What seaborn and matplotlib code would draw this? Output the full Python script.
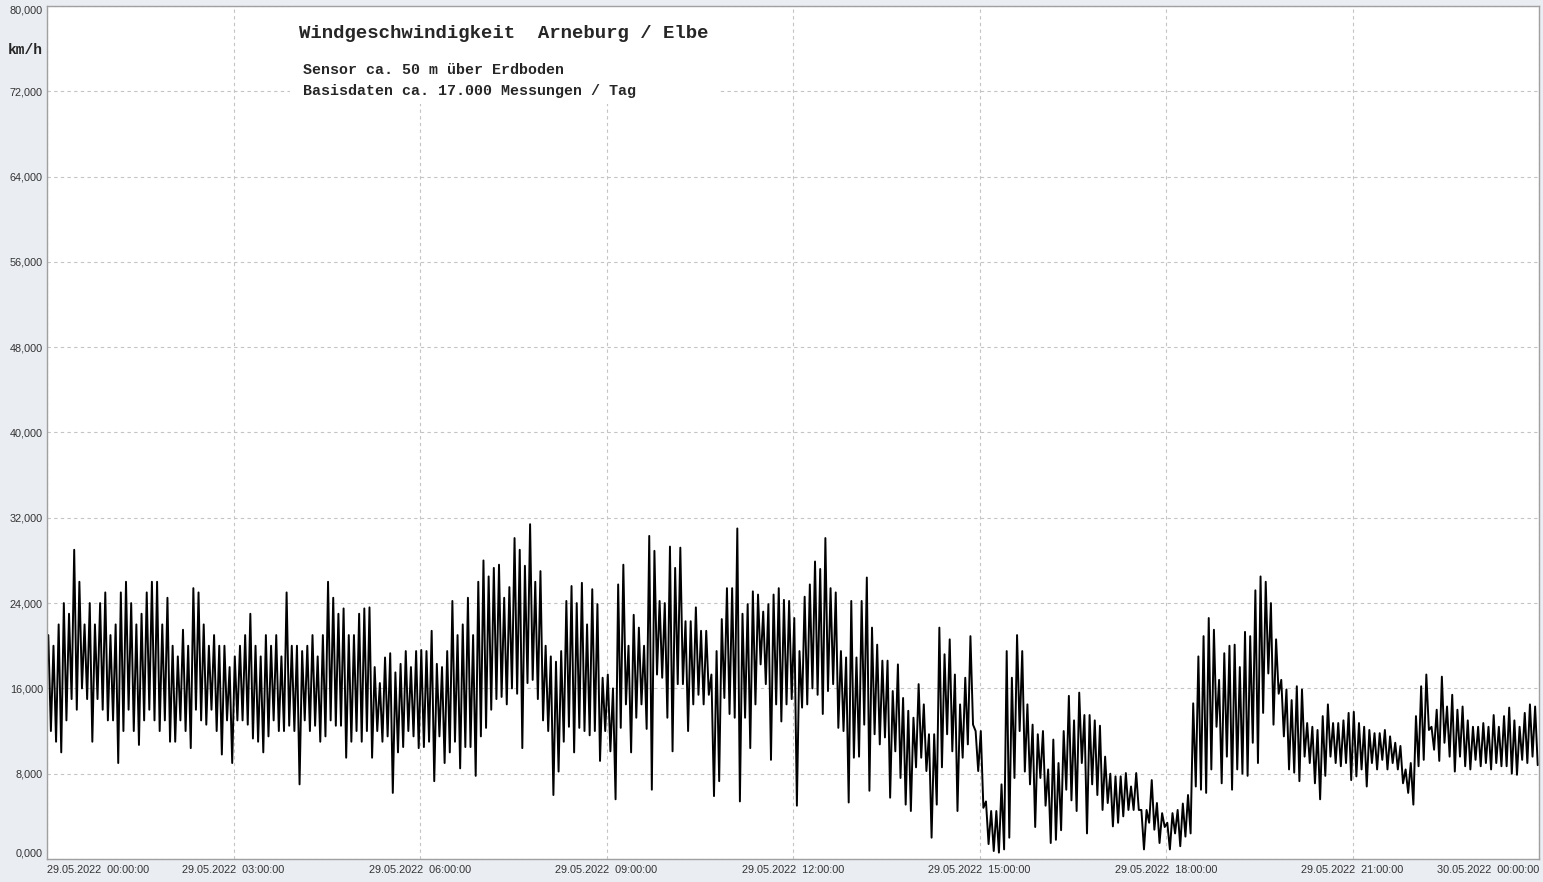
import numpy as np
import pandas as pd
import matplotlib
matplotlib.use('Agg')
import matplotlib.pyplot as plt
import seaborn as sns
from matplotlib.patches import Rectangle
from matplotlib.ticker import MultipleLocator

sns.set_style('white')
plt.rcParams['font.family'] = ['Liberation Sans', 'DejaVu Sans']

# Spitze / Tief je 5 Minuten (km/h), eine Zeile = eine Stunde, 29.05.2022
peak_kmh = [
    21, 20, 22, 24, 23, 29, 26, 22, 24, 22, 24, 25,
    21, 22, 25, 26, 24, 22, 23, 25, 26, 26, 22, 24.5,
    20, 19, 21.5, 20, 25.4, 25, 22, 20, 21, 20, 20, 18,
    19, 20, 21, 23, 20, 19, 21, 20, 21, 19, 25, 20,
    20, 19.5, 20, 21, 19, 21, 26, 24.5, 23, 23.5, 21, 21,
    23, 23.5, 23.6, 18, 16.5, 18.9, 19.3, 17.5, 18.3, 19.5, 18, 19.5,
    19.6, 19.5, 21.4, 18.3, 18, 19.5, 24.2, 21, 22, 24.5, 21, 26,
    28, 26.5, 27.3, 27.6, 24.5, 25.5, 30.1, 29, 27.5, 31.4, 26, 27,
    20, 19, 18.5, 19.5, 24.2, 25.6, 24, 25.9, 22, 25.3, 23.9, 17,
    17.3, 16, 25.75, 27.6, 20, 22.9, 21.7, 20, 30.3, 28.9, 24.2, 24,
    29.3, 27.3, 29.2, 22.3, 22.3, 23.6, 21.4, 21.4, 17.3, 19.5, 22.5, 25.4,
    25.4, 31, 23, 23.9, 25.1, 24.8, 23.2, 23.9, 24.8, 25.4, 24.3, 24.2,
    22.6, 19.5, 24.6, 25.75, 27.9, 27.2, 30.1, 25.4, 25, 19.5, 18.9, 24.2,
    18.9, 24.2, 26.4, 21.7, 20.1, 18.6, 18.6, 15.75, 18.25, 15.1, 13.9, 13.25,
    16.4, 14.5, 11.7, 11.7, 21.7, 19.2, 20.6, 17.3, 14.5, 17, 20.9, 12,
    12, 5.4, 4.5, 4.5, 7, 19.5, 17, 21, 19.5, 14.5, 12.6, 11.7,
    12, 8.4, 11.2, 9, 12, 15.3, 13, 15.6, 13.5, 13.5, 13, 12.5,
    9.6, 8, 7.75, 7.75, 8.06, 6.8, 8.06, 4.6, 4.6, 7.4, 5.25, 4.3,
    3.4, 4.3, 4.6, 5.2, 6, 14.6, 19, 20.9, 22.6, 21.5, 16.8, 19.3,
    20, 20.1, 18, 21.3, 20.9, 25.2, 26.5, 26, 24, 20.6, 16.8, 15.9,
    14.9, 16.2, 15.9, 12.75, 12.4, 12.1, 13.4, 14.5, 12.75, 12.75, 13, 13.7,
    13.8, 12.75, 12.4, 12.1, 11.8, 11.8, 12.1, 11.5, 10.9, 10.6, 8.4, 9,
    13.4, 16.2, 17.3, 12.4, 14, 17.1, 14.3, 15.4, 14, 14.3, 13, 12.4,
    12.4, 12.75, 12.4, 13.5, 12.4, 13.4, 14.2, 13, 12.4, 13.7, 14.5, 14.3,
]
low_kmh = [
    12, 11, 10, 13, 15, 14, 16, 15, 11, 15, 14, 13,
    13, 9, 12, 14, 12, 10.7, 13, 14, 13, 12, 13, 11,
    11, 13, 12, 10.4, 14, 13, 12.6, 14, 12, 9.8, 13, 9,
    13, 13, 12.6, 11.3, 11, 10, 11.5, 13, 12, 12, 12.5, 12,
    7, 13, 12, 12.5, 11, 11.5, 13, 12.5, 12.5, 9.5, 11, 12,
    11, 12, 9.5, 12, 11, 11.5, 6.2, 10, 10.5, 12, 11.5, 10.4,
    10.5, 11, 7.3, 11.5, 9, 10, 11, 8.5, 10.5, 10.5, 7.8, 11.5,
    12.3, 14, 15, 15.2, 14.5, 16, 15.5, 10.4, 16.5, 16.8, 15, 13,
    12, 6, 8.2, 11, 12.4, 10, 12.3, 12, 11.6, 12, 9.2, 12,
    10.1, 5.6, 12.3, 14.5, 10, 13.25, 14.5, 12.2, 6.5, 17.3, 17, 13.25,
    10.1, 16.4, 16.4, 12, 14.5, 15.4, 14.5, 15.4, 5.9, 7.3, 15.1, 13.6,
    13.25, 5.4, 13.25, 10.4, 14.5, 18.25, 16.4, 9.3, 14.5, 12.9, 14.5, 15,
    5, 14.2, 14.5, 16, 15.4, 13.6, 15.75, 16.4, 12.3, 12, 5.3, 9.5,
    9.6, 12.6, 6.4, 11.7, 10.75, 11.4, 5.75, 10.1, 7.6, 5.1, 4.5, 8.6,
    9.5, 8.25, 2, 5.1, 8.6, 11.7, 10.1, 4.5, 9.5, 10.75, 12.6, 8.25,
    4.8, 1.4, 0.75, 0.6, 0.9, 2, 7.6, 12, 8.2, 7, 3, 7.6,
    5, 1.5, 1.8, 2.7, 6.5, 5.5, 4.5, 9, 2.4, 7, 6, 4.6,
    5.25, 3.06, 3.4, 4, 4.6, 4.6, 4.6, 0.9, 3.4, 2.75, 1.5, 3,
    0.9, 2.4, 1.2, 2.1, 2.4, 6.8, 6.5, 6.2, 8.4, 12.4, 7.1, 9.6,
    6.5, 8.4, 8, 7.8, 10.9, 9, 13.7, 17.4, 12.6, 15.5, 11.5, 8.4,
    8.1, 7.3, 9.6, 9, 7.1, 5.6, 7.8, 9.6, 9, 8.7, 9, 7.4,
    7.75, 8.4, 6.8, 9, 8.4, 9.3, 8.4, 9, 8.4, 7.1, 6.2, 5.1,
    8.7, 9.3, 12.1, 10.25, 9.2, 10.9, 9.6, 8.2, 9.6, 8.7, 8.4, 9.3,
    8.7, 9, 8.4, 9, 8.7, 8.7, 8, 7.9, 9.3, 9, 9.6, 8.8,
]

tick_hours = [0, 3, 6, 9, 12, 15, 18, 21, 24]
tick_labels = ["29.05.2022  00:00:00", "29.05.2022  03:00:00", "29.05.2022  06:00:00",
               "29.05.2022  09:00:00", "29.05.2022  12:00:00", "29.05.2022  15:00:00",
               "29.05.2022  18:00:00", "29.05.2022  21:00:00", "30.05.2022  00:00:00"]
ytick_vals = [0, 8, 16, 24, 32, 40, 48, 56, 64, 72, 80]
ytick_labels = ["0,000", "8,000", "16,000", "24,000", "32,000", "40,000",
                "48,000", "56,000", "64,000", "72,000", "80,000"]

# Spitze und Tief abwechselnd innerhalb jedes 5-Minuten-Fensters
slot = np.arange(len(peak_kmh)) / 12.0
df = pd.DataFrame({
    'hour': np.column_stack([slot + 1 / 48, slot + 3 / 48]).ravel(),
    'kmh': np.column_stack([peak_kmh, low_kmh]).ravel(),
})

W, H = 1543, 882
fig = plt.figure(figsize=(W / 100, H / 100), dpi=100, facecolor='#eaedf2')
ax = fig.add_axes([47 / W, 23 / H, 1492 / W, 853 / H])
ax.set_facecolor('white')

sns.lineplot(data=df, x='hour', y='kmh', sort=False, estimator=None,
             color='black', linewidth=1.4, ax=ax, zorder=2)

ax.set_xlim(0, 24)
ax.set_ylim(0, 80)
ax.set_xlabel('')
ax.set_ylabel('')
ax.set_axisbelow(True)

ax.set_xticks(tick_hours, tick_labels)
ax.set_yticks(ytick_vals, ytick_labels)
ax.xaxis.set_minor_locator(MultipleLocator(0.75))
ax.yaxis.set_minor_locator(MultipleLocator(2))
ax.tick_params(which='both', direction='in', color='#b4b4b4', labelsize=7.8,
               labelcolor='#333333')
ax.tick_params(which='major', length=0)
ax.tick_params(which='minor', length=5)
ax.tick_params(axis='x', pad=4)
ax.tick_params(axis='y', pad=3)
xl = ax.get_xticklabels()
xl[0].set_ha('left')
xl[-1].set_ha('right')
yl = ax.get_yticklabels()
yl[0].set_va('bottom')
yl[-1].set_va('top')

ax.grid(True, which='major', color='#c4c4c4', linestyle=(0, (3, 3)), linewidth=0.8)
for s in ax.spines.values():
    s.set_color('#a0a0a0')
    s.set_linewidth(1)

# weisser Hintergrund hinter dem Titelblock
ax.add_patch(Rectangle((290 / W, 1 - 104 / H), 430 / W, 97 / H,
                       transform=fig.transFigure, facecolor='white',
                       edgecolor='none', zorder=1))

mono = ['Liberation Mono', 'DejaVu Sans Mono']
fig.text(299 / W, 1 - 33 / H, 'Windgeschwindigkeit  Arneburg / Elbe',
         family=mono, weight='bold', size=13.7, va='center', ha='left')
fig.text(303 / W, 1 - 70 / H, 'Sensor ca. 50 m über Erdboden',
         family=mono, weight='bold', size=10.8, va='center', ha='left')
fig.text(303 / W, 1 - 91 / H, 'Basisdaten ca. 17.000 Messungen / Tag',
         family=mono, weight='bold', size=10.8, va='center', ha='left')
fig.text(8 / W, 1 - 50 / H, 'km/h', family=mono, weight='bold', size=10.5,
         va='center', ha='left')

fig.savefig('out.png', dpi=100, facecolor=fig.get_facecolor())
